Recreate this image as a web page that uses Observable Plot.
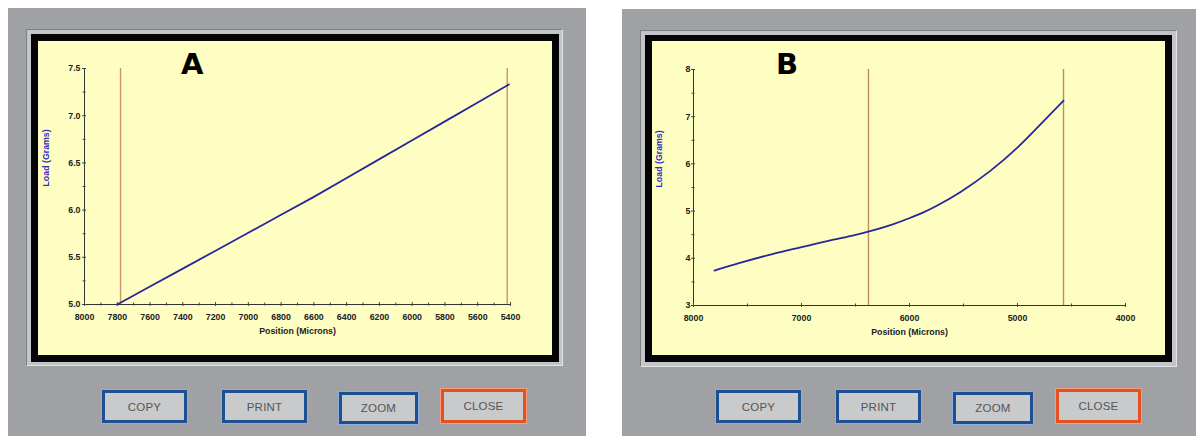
<!DOCTYPE html>
<html>
<head>
<meta charset="utf-8">
<script src="https://cdn.jsdelivr.net/npm/d3@7"></script>
<script src="https://cdn.jsdelivr.net/npm/@observablehq/plot@0.6"></script>
<style>
  html, body { margin: 0; padding: 0; background: #ffffff; width: 1196px; height: 436px; overflow: hidden; }
  .panel { position: absolute; background: #9fa1a5; }
  .bevel { position: absolute; background: #c3c5c8; border-top: 1px solid #7d7f83; border-left: 1px solid #7d7f83; border-right: 1px solid #e2e3e5; border-bottom: 1px solid #e2e3e5; box-sizing: border-box; }
  .blackf { position: absolute; background: #050505; }
  .yellow { position: absolute; background: #fffec2; overflow: visible; }
  .yellow svg { position: absolute; left: 0; top: 0; overflow: visible; }
  .big { position: absolute; font-family: "DejaVu Sans", sans-serif; font-weight: bold; font-size: 29px; color: #000; line-height: 1; }
  .btn { position: absolute; box-sizing: border-box; background: #c9cacc; border: 3px solid #1d4f92; outline: 1px solid #8fb1d9; font-family: "Liberation Sans", Arial, sans-serif; font-size: 11.5px; color: #555; display: flex; align-items: center; justify-content: center; letter-spacing: 0.2px; }
  .btn.close { border-color: #e5521f; outline-color: #f0a080; }
</style>
</head>
<body>
<script>
// ---------- Data ----------
// Panel A
const posA  = [7800, 7600, 7400, 7200, 7000, 6800, 6600, 6400, 6200, 6000, 5800, 5600, 5410];
const loadA = [5.00, 5.19, 5.38, 5.57, 5.76, 5.95, 6.14, 6.34, 6.54, 6.74, 6.94, 7.14, 7.33];
const markersA = [7780, 5420];
const xDomainA = [8000, 5400];
const yDomainA = [5.0, 7.5];
const xTicksA = [8000, 7800, 7600, 7400, 7200, 7000, 6800, 6600, 6400, 6200, 6000, 5800, 5600, 5400];
const xMinorA = [7900, 7700, 7500, 7300, 7100, 6900, 6700, 6500, 6300, 6100, 5900, 5700, 5500];
const yTicksA = [5.0, 5.5, 6.0, 6.5, 7.0, 7.5];
const yMinorA = [5.25, 5.75, 6.25, 6.75, 7.25];

// Panel B
const posB  = [7806, 7565, 7259, 7009, 6759, 6519, 6380, 6148, 6000, 5870, 5778, 5528, 5250, 5000, 4787, 4574];
const loadB = [3.74, 3.91, 4.10, 4.23, 4.37, 4.48, 4.56, 4.72, 4.85, 4.97, 5.07, 5.39, 5.84, 6.33, 6.84, 7.34];
const markersB = [6380, 4574];
const xDomainB = [8000, 4000];
const yDomainB = [3, 8];
const xTicksB = [8000, 7000, 6000, 5000, 4000];
const xMinorB = [7500, 6500, 5500, 4500];
const yTicksB = [3, 4, 5, 6, 7, 8];
const yMinorB = [3.5, 4.5, 5.5, 6.5, 7.5];

const xLabel = "Position (Microns)";
const yLabel = "Load (Grams)";
const buttons = ["COPY", "PRINT", "ZOOM", "CLOSE"];

// ---------- Layout helpers ----------
function el(cls, x, y, w, h, parent = document.body) {
  const d = document.createElement("div");
  d.className = cls;
  Object.assign(d.style, { left: x + "px", top: y + "px", width: w + "px", height: h + "px" });
  parent.appendChild(d);
  return d;
}

function makeChart(cfg) {
  const data = cfg.pos.map((p, i) => ({ pos: p, load: cfg.load[i] }));
  return Plot.plot({
    width: cfg.w, height: cfg.h,
    marginLeft: cfg.ml, marginRight: cfg.mr, marginTop: cfg.mt, marginBottom: cfg.mb,
    style: { background: "transparent", color: "#222", fontFamily: "'Liberation Sans', Arial, sans-serif", fontSize: "8.8px", fontWeight: "bold" },
    x: { domain: cfg.xDomain },
    y: { domain: cfg.yDomain },
    marks: [
      Plot.ruleX(cfg.markers, { y1: cfg.yDomain[0], y2: cfg.yDomain[1], stroke: cfg.markerColor, strokeWidth: 1.4 }),
      Plot.ruleY([cfg.yDomain[0]], { stroke: "#333", strokeWidth: 1 }),
      Plot.ruleX([cfg.xDomain[0]], { stroke: "#333", strokeWidth: 1 }),
      Plot.axisX({ ticks: cfg.xMinor, tickSize: 3, dy: -1.5, text: null, label: null, stroke: "#444" }),
      Plot.axisX({ ticks: cfg.xTicks, tickSize: 4, dy: -2, text: null, label: null, stroke: "#444" }),
      Plot.axisX({ ticks: cfg.xTicks, tickSize: 0, tickPadding: 9, label: null, tickFormat: d => String(d) }),
      Plot.axisY({ ticks: cfg.yMinor, tickSize: 3, dx: 1.5, text: null, label: null, stroke: "#444" }),
      Plot.axisY({ ticks: cfg.yTicks, tickSize: 4, dx: 2, text: null, label: null, stroke: "#444" }),
      Plot.axisY({ ticks: cfg.yTicks, tickSize: 0, tickPadding: cfg.ytp, label: null, tickFormat: cfg.yFmt }),
      Plot.line(data, { x: "pos", y: "load", stroke: "#27279a", strokeWidth: 1.8, curve: cfg.curve }),
      Plot.text([xLabel], { frameAnchor: "bottom", dy: 29, fill: "#222", fontSize: 8.8, fontWeight: "bold" }),
      Plot.text([yLabel], { frameAnchor: "left", dx: cfg.ylx, rotate: -90, fill: "#2e2ec4", fontSize: 8.8, fontWeight: "bold" })
    ]
  });
}

function makePanel(p) {
  el("panel", p.gx, p.gy, p.gw, p.gh);
  el("bevel", p.fx, p.fy, p.fw, p.fh);
  el("blackf", p.bx, p.by, p.bw, p.bh);
  const y = el("yellow", p.yx, p.yy, p.yw, p.yh);
  y.appendChild(makeChart({ ...p.chart, w: p.yw, h: p.yh }));
  const L = el("big", p.letterX, p.letterY, 30, 30);
  L.textContent = p.letter;
  p.btns.forEach((b, i) => {
    const d = el("btn" + (buttons[i] === "CLOSE" ? " close" : ""), b[0], b[1], b[2], b[3]);
    d.textContent = buttons[i];
  });
}

makePanel({
  gx: 8, gy: 8, gw: 578, gh: 428,
  fx: 26, fy: 29, fw: 537, fh: 337,
  bx: 31, by: 34, bw: 528, bh: 328,
  yx: 38, yy: 41, yw: 514, yh: 314,
  letter: "A", letterX: 181, letterY: 50,
  chart: { pos: posA, load: loadA, markers: markersA, xDomain: xDomainA, yDomain: yDomainA,
           xTicks: xTicksA, xMinor: xMinorA, yTicks: yTicksA, yMinor: yMinorA, curve: "linear",
           yFmt: d3.format(".1f"), ml: 46, mr: 42, mt: 27, mb: 51, ytp: 4, ylx: -38, markerColor: "#cf9468" },
  btns: [[102, 390, 85, 33], [222, 390, 85, 33], [339, 392, 79, 32], [441, 389, 85, 34]]
});

makePanel({
  gx: 622, gy: 9, gw: 574, gh: 427,
  fx: 640, fy: 30, fw: 537, fh: 337,
  bx: 645, by: 35, bw: 527, bh: 327,
  yx: 652, yy: 41, yw: 513, yh: 314,
  letter: "B", letterX: 776, letterY: 50,
  chart: { pos: posB, load: loadB, markers: markersB, xDomain: xDomainB, yDomain: yDomainB,
           xTicks: xTicksB, xMinor: xMinorB, yTicks: yTicksB, yMinor: yMinorB, curve: "basis",
           yFmt: d3.format("d"), ml: 41, mr: 40, mt: 28, mb: 50, ytp: 3, ylx: -34, markerColor: "#b98f5c" },
  btns: [[716, 390, 85, 33], [836, 390, 85, 33], [953, 392, 80, 32], [1056, 389, 85, 34]]
});
</script>
</body>
</html>
